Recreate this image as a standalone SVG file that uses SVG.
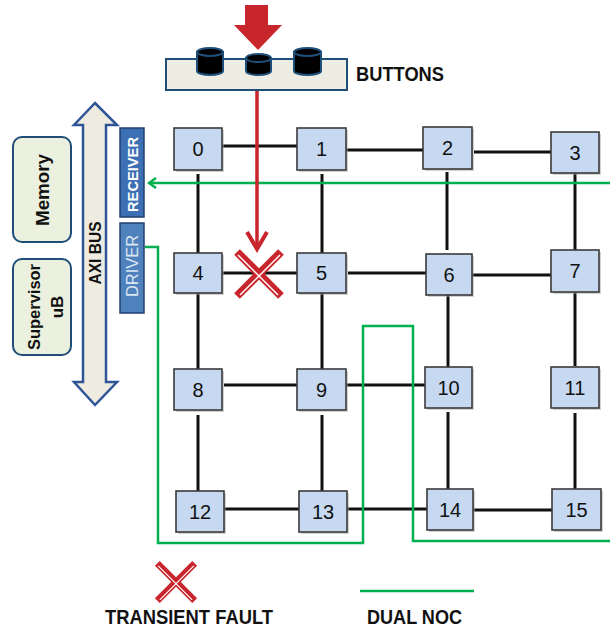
<svg xmlns="http://www.w3.org/2000/svg" width="610" height="631" viewBox="0 0 610 631">
  <style>
    .node rect.box { fill: #c6d9f1; stroke: #3a3a3a; stroke-width: 1.6; }
    .node rect.shade { fill: #a6a6a6; opacity: 0.5; }
    .node text { font-family: "Liberation Sans", Arial, sans-serif; font-size: 20px; fill: #111; text-anchor: middle; }
    .link { stroke: #111; stroke-width: 3; fill: none; }
    .noc { stroke: #00b050; stroke-width: 2.5; fill: none; }
    .lbl { font-family: "Liberation Sans", Arial, sans-serif; font-weight: bold; fill: #111; }
    .side { fill: #ebf1de; stroke: #1f4e79; stroke-width: 2; }
    .fault { stroke: #c9252c; stroke-width: 8; }
    .faultline { stroke: #fff; stroke-width: 1.4; }
  </style>
  <defs>
    <marker id="greenHead" markerWidth="12" markerHeight="12" refX="10" refY="6" orient="auto" markerUnits="userSpaceOnUse">
      <path d="M3,1 L10,6 L3,11" fill="none" stroke="#00b050" stroke-width="2.5"/>
    </marker>
    <g id="faultMark">
      <line class="fault" x1="-22" y1="-22" x2="22" y2="22"/>
      <line class="fault" x1="22" y1="-22" x2="-22" y2="22"/>
      <line class="faultline" x1="-21" y1="-19" x2="19" y2="21"/>
      <line class="faultline" x1="21" y1="-19" x2="-19" y2="21"/>
    </g>
  </defs>

  <!-- push-button panel -->
  <g id="buttons">
    <rect x="166" y="59" width="181" height="31" fill="#eeede3" stroke="#1f4e79" stroke-width="2"/>
    <path d="M197,52 V71 A13,4 0 0 0 223,71 V52 Z" fill="#000" stroke="#1f4e79" stroke-width="2"/>
    <ellipse cx="210" cy="52" rx="13" ry="4" fill="#000" stroke="#1f4e79" stroke-width="2"/>
    <path d="M246,58 V71 A12.5,4 0 0 0 271,71 V58 Z" fill="#000" stroke="#1f4e79" stroke-width="2"/>
    <ellipse cx="258.5" cy="58" rx="12.5" ry="4" fill="#000" stroke="#1f4e79" stroke-width="2"/>
    <path d="M294,52 V71 A13.5,4 0 0 0 321,71 V52 Z" fill="#000" stroke="#1f4e79" stroke-width="2"/>
    <ellipse cx="307.5" cy="52" rx="13.5" ry="4" fill="#000" stroke="#1f4e79" stroke-width="2"/>
    <text class="lbl" x="356" y="81" font-size="21" textLength="88" lengthAdjust="spacingAndGlyphs">BUTTONS</text>
  </g>

  <!-- press arrow -->
  <g id="press">
    <polygon points="245,5 268,5 268,25 282,25 258,50 234,25 245,25" fill="#c9252c"/>
  </g>

  <!-- side blocks -->
  <g id="memory">
    <rect class="side" x="13" y="137" width="58" height="105" rx="9"/>
    <text class="lbl" font-size="19" text-anchor="middle" transform="translate(49,190) rotate(-90)" textLength="72" lengthAdjust="spacingAndGlyphs">Memory</text>
  </g>
  <g id="supervisor">
    <rect class="side" x="13" y="259" width="58" height="96" rx="9"/>
    <text class="lbl" font-size="17" text-anchor="middle" transform="translate(40,307) rotate(-90)" textLength="86" lengthAdjust="spacingAndGlyphs">Supervisor</text>
    <text class="lbl" font-size="17" text-anchor="middle" transform="translate(63,307) rotate(-90)">uB</text>
  </g>
  <g id="axi-bus">
    <polygon points="95,103 117,125 106,125 106,382 117,382 95,405 74,382 83,382 83,125 74,125" fill="#eeece1" stroke="#2f5597" stroke-width="2.5" stroke-linejoin="miter"/>
    <text class="lbl" font-size="17" text-anchor="middle" transform="translate(101,253) rotate(-90)" textLength="63" lengthAdjust="spacingAndGlyphs">AXI BUS</text>
  </g>
  <g id="receiver">
    <rect x="120" y="128" width="24" height="89" fill="#3c6fb4" stroke="#1f3f6e" stroke-width="1.5"/>
    <text font-family="Liberation Sans, Arial, sans-serif" font-weight="bold" font-size="15" fill="#fff" text-anchor="middle" transform="translate(137.5,174.5) rotate(-90)" textLength="75" lengthAdjust="spacingAndGlyphs">RECEIVER</text>
  </g>
  <g id="driver">
    <rect x="120" y="223" width="24" height="90" fill="#4f81bd" stroke="#1f3f6e" stroke-width="1.5"/>
    <text font-family="Liberation Sans, Arial, sans-serif" font-size="16" fill="#dce6f2" text-anchor="middle" transform="translate(137.5,266) rotate(-90)" textLength="62" lengthAdjust="spacingAndGlyphs">DRIVER</text>
  </g>

  <!-- mesh links, dual NoC wiring and fault path -->
  <g id="connectors">
    <line class="link" x1="222" y1="146" x2="297" y2="146"/>
    <line class="link" x1="346" y1="150" x2="423" y2="150"/>
    <line class="link" x1="474" y1="152" x2="551" y2="152"/>
    <line class="link" x1="222" y1="273" x2="297" y2="273"/>
    <line class="link" x1="348" y1="273" x2="426" y2="273"/>
    <line class="link" x1="472" y1="275" x2="551" y2="275"/>
    <line class="link" x1="224" y1="385" x2="297" y2="385"/>
    <line class="link" x1="346" y1="385" x2="425" y2="385"/>
    <line class="link" x1="224" y1="509" x2="299" y2="509"/>
    <line class="link" x1="347" y1="509" x2="427" y2="509"/>
    <line class="link" x1="473" y1="510" x2="552" y2="510"/>

    <line class="link" x1="198" y1="174" x2="198" y2="253"/>
    <line class="link" x1="198" y1="293" x2="198" y2="369"/>
    <line class="link" x1="198" y1="415" x2="198" y2="491"/>
    <line class="link" x1="322" y1="174" x2="322" y2="253"/>
    <line class="link" x1="322" y1="293" x2="322" y2="369"/>
    <line class="link" x1="322" y1="415" x2="322" y2="491"/>
    <line class="link" x1="447" y1="172" x2="447" y2="250"/>
    <line class="link" x1="448" y1="295" x2="448" y2="367"/>
    <line class="link" x1="448" y1="412" x2="448" y2="489"/>
    <line class="link" x1="575" y1="172" x2="575" y2="250"/>
    <line class="link" x1="575" y1="292" x2="575" y2="366"/>
    <line class="link" x1="575" y1="413" x2="575" y2="489"/>

    <line class="noc" x1="610" y1="183" x2="149" y2="183" marker-end="url(#greenHead)"/>
    <path class="noc" d="M145,247 H158 V543 H363 V326 H413 V541 H610"/>

    <line x1="257" y1="91" x2="257" y2="248" stroke="#c9252c" stroke-width="3.5"/>
    <polyline points="247,232 257,249 267,232" fill="none" stroke="#c9252c" stroke-width="4"/>
  </g>

  <!-- fault on link 4-5 -->
  <g id="fault">
    <use href="#faultMark" transform="translate(259,274)"/>
  </g>

  <!-- routers -->
  <g id="n0" class="node"><rect class="shade" x="176" y="130" width="48" height="42"/><rect class="box" x="174" y="128" width="48" height="42"/><text x="198" y="156">0</text></g>
  <g id="n1" class="node"><rect class="shade" x="299" y="130" width="49" height="42"/><rect class="box" x="297" y="128" width="49" height="42"/><text x="321.5" y="156">1</text></g>
  <g id="n2" class="node"><rect class="shade" x="425" y="129" width="49" height="42"/><rect class="box" x="423" y="127" width="49" height="42"/><text x="447.5" y="155">2</text></g>
  <g id="n3" class="node"><rect class="shade" x="553" y="134" width="48" height="41"/><rect class="box" x="551" y="132" width="48" height="41"/><text x="575" y="160">3</text></g>
  <g id="n4" class="node"><rect class="shade" x="176" y="255" width="48" height="40"/><rect class="box" x="174" y="253" width="48" height="40"/><text x="198" y="280">4</text></g>
  <g id="n5" class="node"><rect class="shade" x="299" y="255" width="49" height="40"/><rect class="box" x="297" y="253" width="49" height="40"/><text x="321.5" y="280">5</text></g>
  <g id="n6" class="node"><rect class="shade" x="428" y="256" width="46" height="41"/><rect class="box" x="426" y="254" width="46" height="41"/><text x="449" y="282">6</text></g>
  <g id="n7" class="node"><rect class="shade" x="553" y="252" width="48" height="42"/><rect class="box" x="551" y="250" width="48" height="42"/><text x="575" y="278">7</text></g>
  <g id="n8" class="node"><rect class="shade" x="176" y="371" width="48" height="41"/><rect class="box" x="174" y="369" width="48" height="41"/><text x="198" y="397">8</text></g>
  <g id="n9" class="node"><rect class="shade" x="299" y="371" width="49" height="41"/><rect class="box" x="297" y="369" width="49" height="41"/><text x="321.5" y="397">9</text></g>
  <g id="n10" class="node"><rect class="shade" x="427" y="369" width="47" height="41"/><rect class="box" x="425" y="367" width="47" height="41"/><text x="448.5" y="395">10</text></g>
  <g id="n11" class="node"><rect class="shade" x="553" y="369" width="48" height="41"/><rect class="box" x="551" y="367" width="48" height="41"/><text x="575" y="395">11</text></g>
  <g id="n12" class="node"><rect class="shade" x="178" y="493" width="48" height="41"/><rect class="box" x="176" y="491" width="48" height="41"/><text x="200" y="519">12</text></g>
  <g id="n13" class="node"><rect class="shade" x="301" y="493" width="48" height="41"/><rect class="box" x="299" y="491" width="48" height="41"/><text x="323" y="519">13</text></g>
  <g id="n14" class="node"><rect class="shade" x="429" y="491" width="46" height="41"/><rect class="box" x="427" y="489" width="46" height="41"/><text x="450" y="517">14</text></g>
  <g id="n15" class="node"><rect class="shade" x="554" y="491" width="49" height="41"/><rect class="box" x="552" y="489" width="49" height="41"/><text x="576.5" y="517">15</text></g>

  <!-- legend -->
  <g id="legend">
    <use href="#faultMark" transform="translate(176,582) scale(0.85)"/>
    <text class="lbl" x="105" y="624" font-size="20" textLength="168" lengthAdjust="spacingAndGlyphs">TRANSIENT FAULT</text>
    <line class="noc" x1="360" y1="591" x2="474" y2="591"/>
    <text class="lbl" x="367" y="624" font-size="20" textLength="95" lengthAdjust="spacingAndGlyphs">DUAL NOC</text>
  </g>
</svg>
